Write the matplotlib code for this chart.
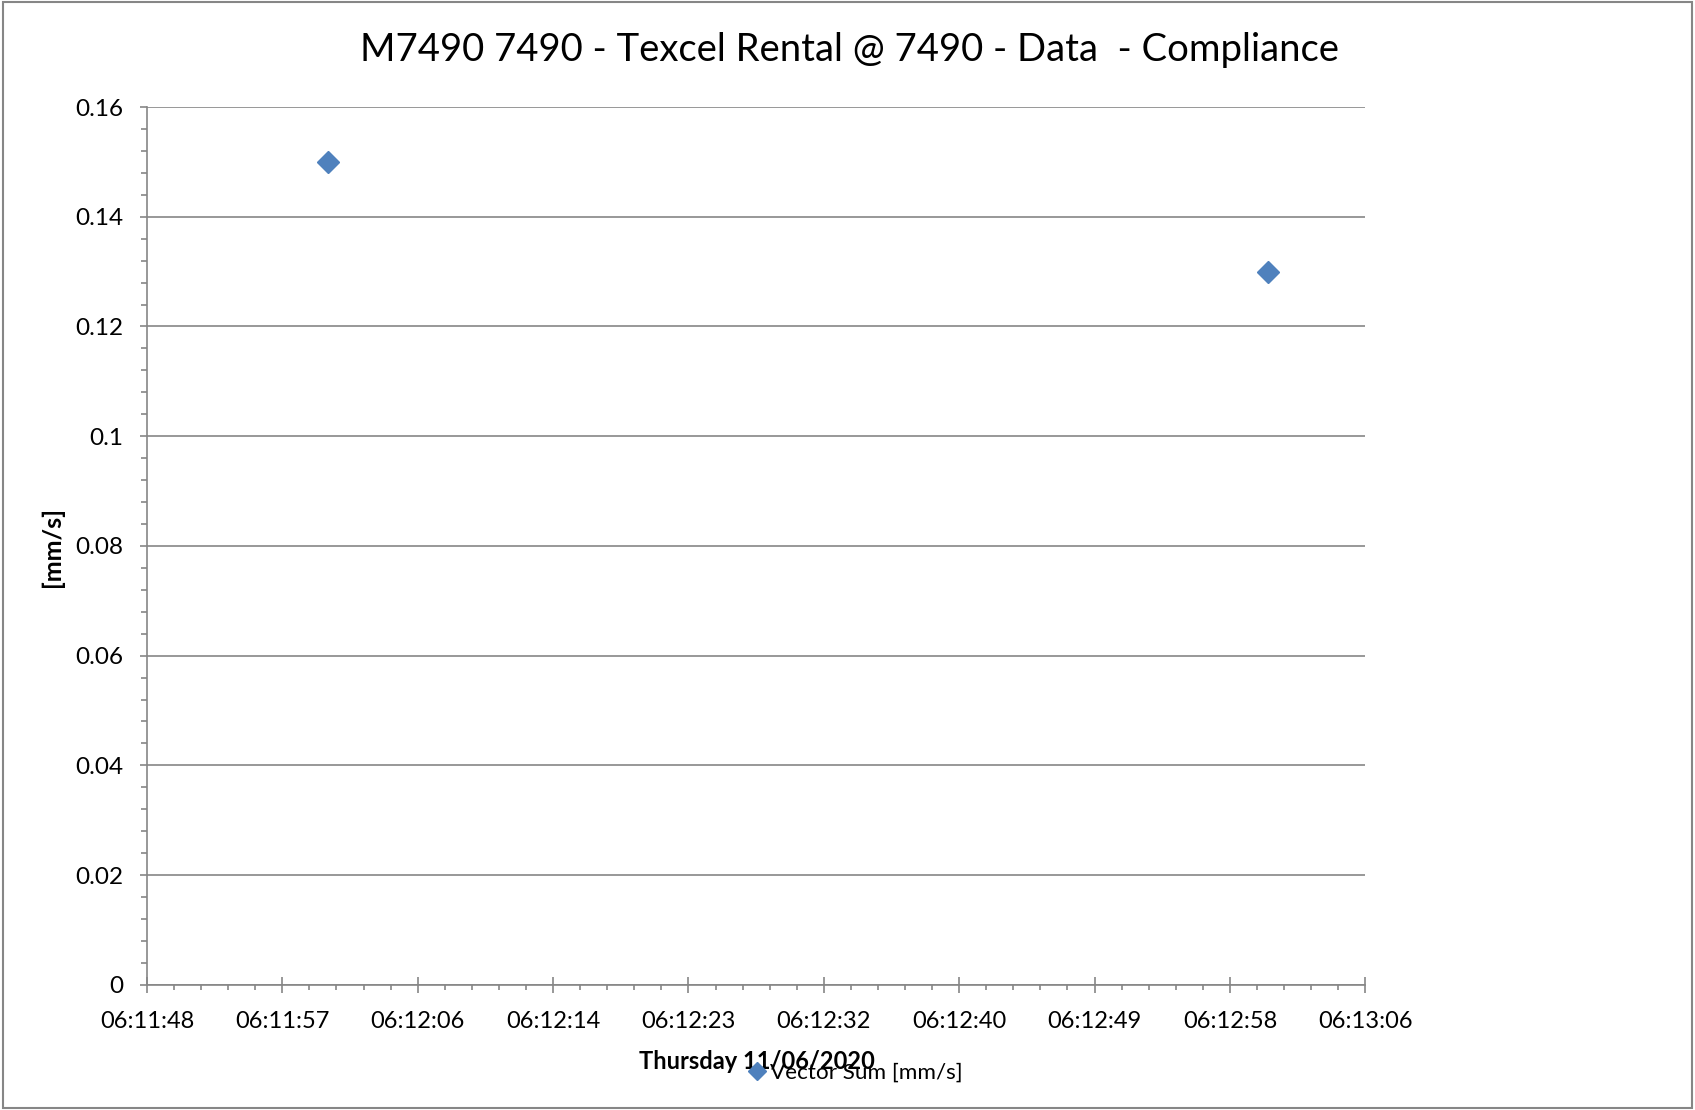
import numpy as np
import matplotlib
matplotlib.use("Agg")
import matplotlib.pyplot as plt
from matplotlib.patches import Rectangle
from matplotlib.ticker import AutoMinorLocator, FuncFormatter

# data
times = ["06:12:00", "06:13:00.2"]
vector_sum = [0.15, 0.13]

x_tick_labels = ["06:11:48", "06:11:57", "06:12:06", "06:12:14", "06:12:23",
                 "06:12:32", "06:12:40", "06:12:49", "06:12:58", "06:13:06"]
x_start = "06:11:48.4"
x_end = "06:13:06.4"

title = "M7490 7490 - Texcel Rental @ 7490 - Data  - Compliance"
x_title = "Thursday 11/06/2020"
y_title = "[mm/s]"
series_name = "Vector Sum [mm/s]"


def to_sec(t):
    h, m, s = t.split(":")
    return int(h) * 3600 + int(m) * 60 + float(s)


plt.rcParams['font.family'] = ['Lato', 'DejaVu Sans']
grey = "#868686"

fig = plt.figure(figsize=(16.95, 11.10), dpi=100)
ax = fig.add_axes([0.0867, 0.1128, 0.7188, 0.7908])

xs = [to_sec(t) for t in times]
ax.plot(xs, vector_sum, linestyle="none", marker="D", markersize=11,
        color="#4F81BD", label=series_name)

x0, x1 = to_sec(x_start), to_sec(x_end)
ax.set_xlim(x0, x1)
ax.set_xticks(np.linspace(x0, x1, len(x_tick_labels)))
ax.set_xticklabels(x_tick_labels)
ax.xaxis.set_minor_locator(AutoMinorLocator(5))

ax.set_ylim(0, 0.16)
ax.set_yticks(np.arange(0, 0.161, 0.02))
ax.yaxis.set_major_formatter(FuncFormatter(lambda v, p: "%g" % round(v, 4)))
ax.yaxis.set_minor_locator(AutoMinorLocator(5))

ax.grid(axis="y", color=grey, linewidth=1.2)
ax.set_axisbelow(True)
for s in ["top", "right"]:
    ax.spines[s].set_visible(False)
for s in ["left", "bottom"]:
    ax.spines[s].set_color(grey)
    ax.spines[s].set_linewidth(1.2)

ax.tick_params(axis="x", which="major", direction="inout", length=11.5,
               width=1.2, color=grey, labelsize=17, pad=13)
ax.tick_params(axis="x", which="minor", direction="out", length=3.8,
               width=1.2, color=grey)
ax.tick_params(axis="y", which="major", direction="out", length=5,
               width=1.2, color=grey, labelsize=17.5, pad=12)
ax.tick_params(axis="y", which="minor", direction="out", length=4,
               width=1.2, color=grey)

fig.text(0.501, 0.955, title, ha="center", va="center", fontsize=27.5)
fig.text(0.031, 0.507, y_title, ha="center", va="center", rotation=90,
         fontsize=18, fontweight="bold")
fig.text(0.4466, 0.0441, x_title, ha="center", va="center",
         fontsize=17, fontweight="bold")

fig.legend(loc="center", bbox_to_anchor=(0.5045, 0.0333), frameon=False,
           fontsize=16.2, handlelength=0.8, handletextpad=0.2, borderpad=0,
           markerscale=0.8)

fig.patches.append(Rectangle((0.0015, 0.0015), 0.997, 0.997, fill=False,
                             edgecolor=grey, linewidth=1.5,
                             transform=fig.transFigure, figure=fig))

fig.savefig("out.png", dpi=100)
